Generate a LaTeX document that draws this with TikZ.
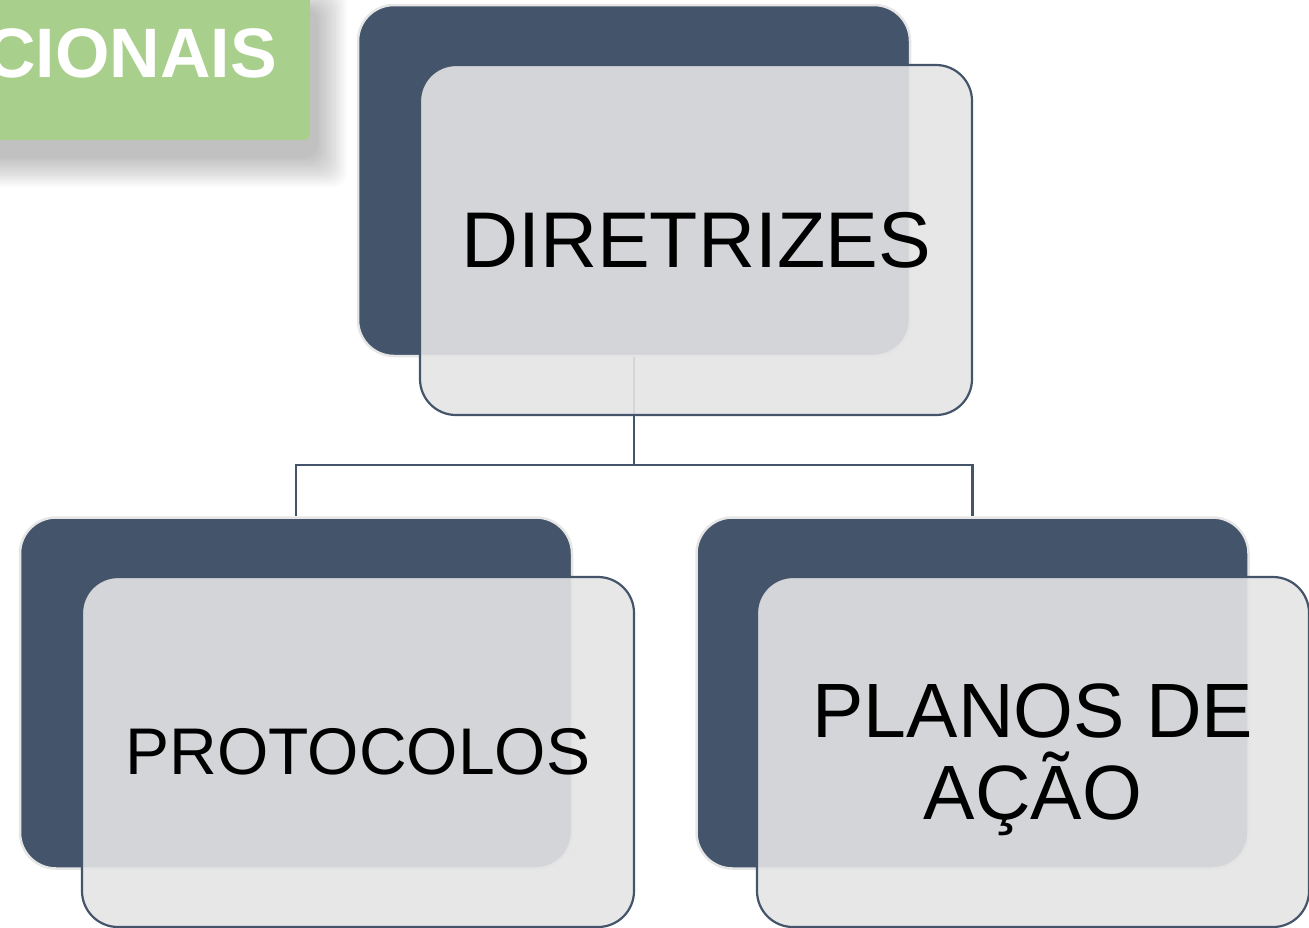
\documentclass[tikz,border=0pt]{standalone}
\usepackage{fontspec}
\setmainfont{Liberation Sans}
\definecolor{darkbox}{HTML}{44546A}
\definecolor{frontfill}{RGB}{228,228,228}
\definecolor{greenbox}{HTML}{A9CF8D}
\definecolor{outline}{HTML}{E6E6E6}
\tikzset{
  backbox/.style={fill=darkbox, draw=outline, line width=2.5pt, rounded corners=36pt,
    minimum width=552pt, minimum height=351pt, inner sep=0pt},
  frontbox/.style={fill=frontfill, fill opacity=0.9, text opacity=1, draw=darkbox, line width=2.2pt,
    rounded corners=36pt, minimum width=552pt, minimum height=350pt, inner sep=0pt,
    align=center, text=black},
  conn/.style={draw=darkbox, line width=2.2pt},
  greentag/.style={fill=greenbox, rounded corners=6pt, inner sep=0pt},
}
\begin{document}
\begin{tikzpicture}[x=1pt,y=-1pt]
\useasboundingbox (0,0) rectangle (1309,927);
\clip (0,0) rectangle (1309,927);
% green tag shadow
\foreach \i in {1,...,14}{
  \fill[black, opacity=0.019, rounded corners=14pt] (-30,{10-\i*1.5}) rectangle ({316+\i*2.2},{156+\i*2.2});
}
\node[greentag, minimum width=340pt, minimum height=160pt] (tag) at (140,60) {};
\node[anchor=base east, text=white, font=\bfseries\fontsize{70}{70}\selectfont, inner sep=0pt] (tagtext) at (277,77) {CIONAIS};
% back boxes
\node[backbox] (d1) at (634,180.5) {};
\node[backbox] (d2) at (296,693) {};
\node[backbox] (d3) at (972.5,693) {};
% connectors
\coordinate (j) at (634,465);
\draw[conn] (d1.south) -- (j);
\draw[conn] (d2.north) |- (j) -| (d3.north);
% front boxes
\node[frontbox, font=\fontsize{79}{79}\selectfont] (f1) at (696,240) {DIRETRIZES};
\node[frontbox, font=\fontsize{66}{66}\selectfont] (f2) at (358,752) {PROTOCOLOS};
\node[frontbox, font=\fontsize{77}{82}\selectfont] (f3) at (1033,752) {\rule{0pt}{70pt}PLANOS DE\\AÇÃO};
\end{tikzpicture}
\end{document}
